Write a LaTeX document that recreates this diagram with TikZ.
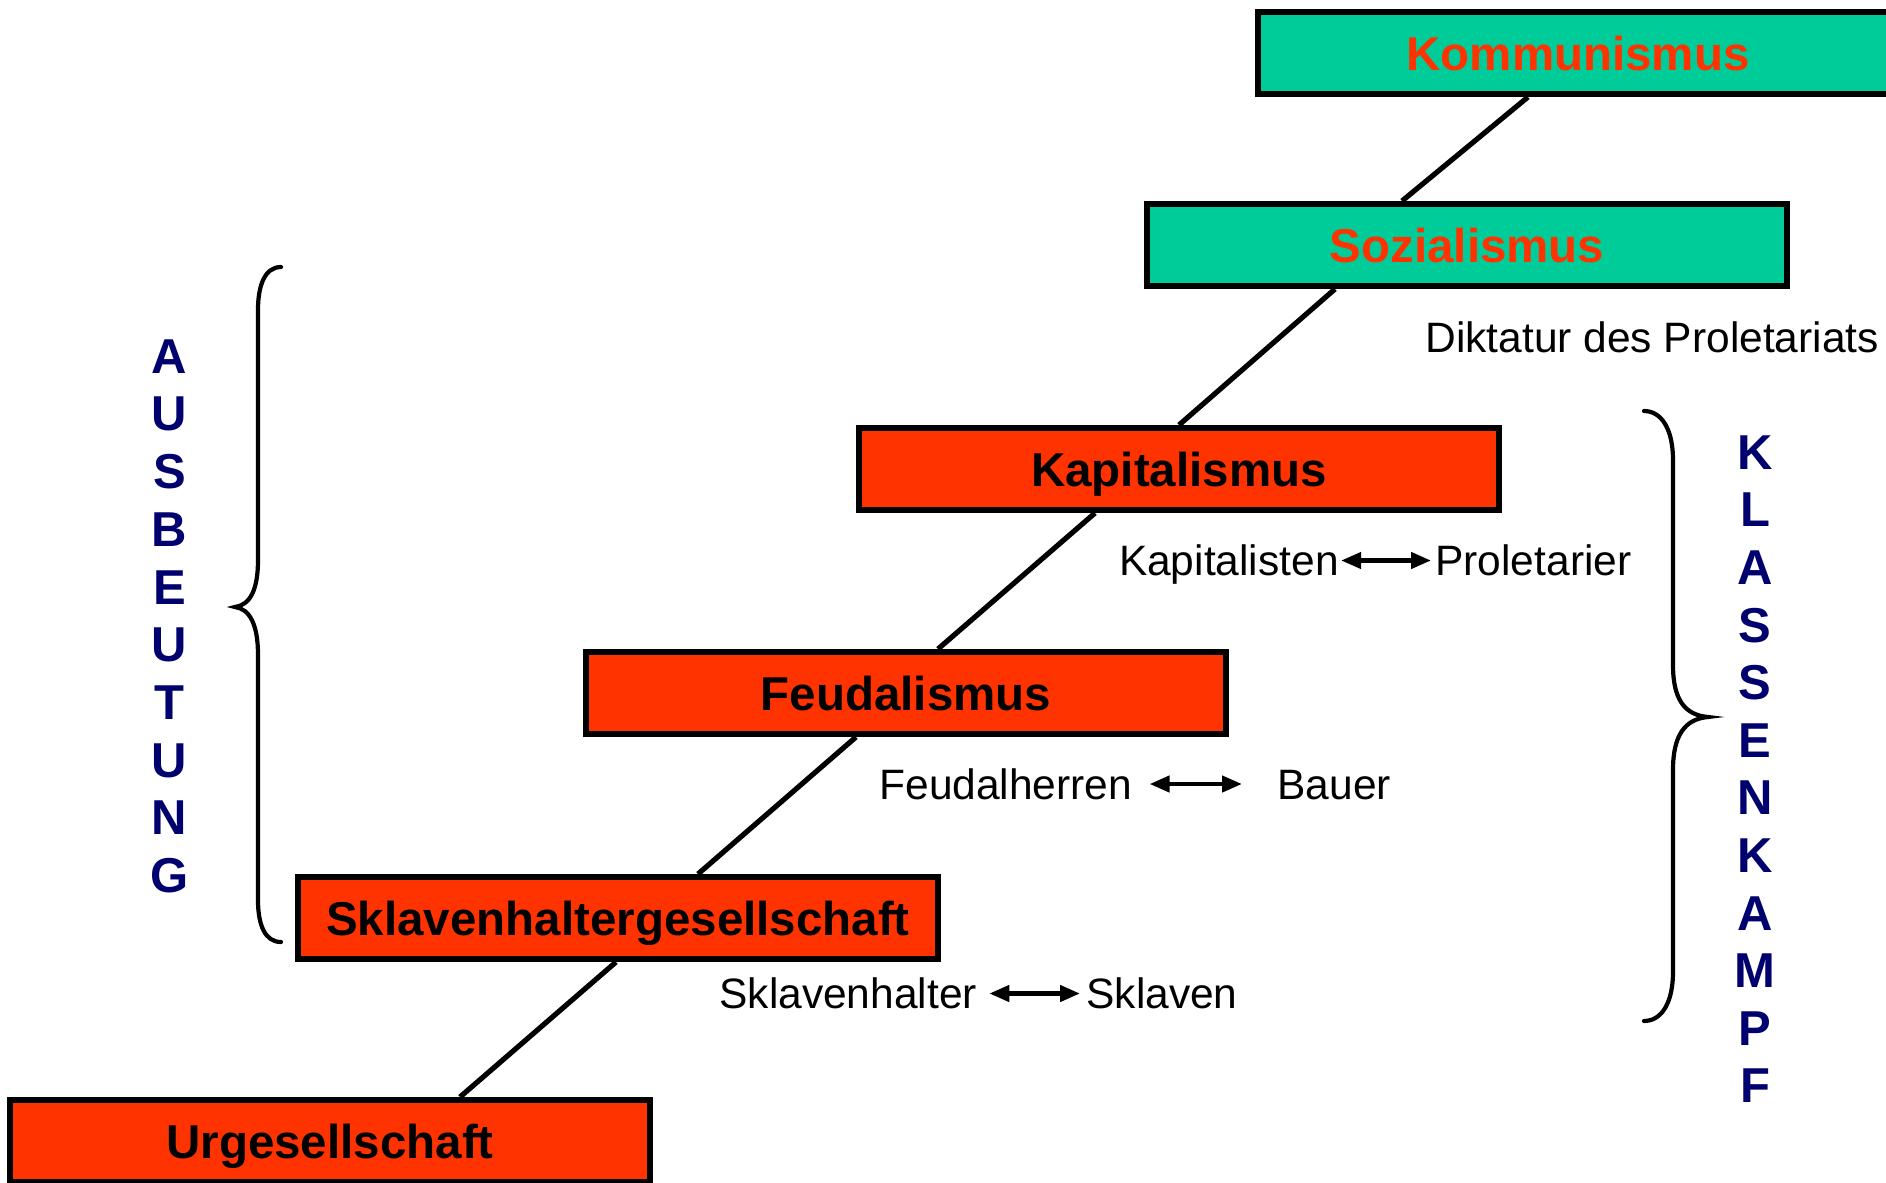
\documentclass[tikz,border=0pt]{standalone}
\usepackage{fontspec}
\setmainfont{Liberation Sans}
\usetikzlibrary{arrows.meta,calc}
\definecolor{boxred}{HTML}{FF3300}
\definecolor{boxteal}{HTML}{00CC99}
\definecolor{navyblue}{RGB}{0,0,110}
\begin{document}
\begin{tikzpicture}[x=0.5pt,y=-0.5pt,
  stage/.style={draw=black, line width=3pt, minimum width=320pt, minimum height=41pt,
    inner sep=0pt, text height=17pt, text depth=0pt, font=\fontsize{23.75}{28}\selectfont\bfseries},
  redstage/.style={stage, fill=boxred, text=black},
  tealstage/.style={stage, fill=boxteal, text=boxred},
  link/.style={line width=2.6pt},
  lbl/.style={inner sep=0pt, text height=15.2pt, text depth=0pt, font=\fontsize{21.25}{25}\selectfont},
  rel/.style={line width=2.2pt, {Triangle[length=10pt,width=8pt]}-{Triangle[length=10pt,width=8pt]}},
  vlet/.style={inner sep=0pt, text=navyblue, text height=17.2pt, text depth=0pt, font=\fontsize{24.5}{28}\selectfont\bfseries},
  brace/.style={line width=2.1pt, line cap=round}]
\useasboundingbox (0,0) rectangle (1886,1183);
\fill[white] (0,0) rectangle (1886,1183);

% stages
\node[tealstage] (komm) at (1578,53) {Kommunismus};
\node[tealstage] (soz) at (1467,245) {Sozialismus};
\node[redstage] (kap) at (1179,469) {Kapitalismus};
\node[redstage] (feud) at (906,693) {Feudalismus};
\node[redstage] (sklav) at (618,918) {Sklavenhaltergesellschaft};
\node[redstage] (urg) at (330,1141) {Urgesellschaft};

% connectors
\draw[link] ([xshift=-25pt]komm.south) -- ([xshift=-32.5pt]soz.north);
\draw[link] ([xshift=-66pt]soz.south) -- (kap.north);
\draw[link] ([xshift=-42pt]kap.south) -- ([xshift=16pt]feud.north);
\draw[link] ([xshift=-25pt]feud.south) -- ([xshift=40pt]sklav.north);
\draw[link] ([xshift=-1pt]sklav.south) -- ([xshift=65pt]urg.north);

% labels
\node[lbl, anchor=west] (dik) at (1425,337) {Diktatur des Proletariats};
\node[lbl, anchor=west] (kapl) at (1118.6,560.5) {Kapitalisten};
\node[lbl, anchor=west] (prol) at (1435,560.5) {Proletarier};
\draw[rel, shorten <=1pt, shorten >=2pt] (kapl.east) -- (prol.west);
\node[lbl, anchor=west] (feudl) at (879,784) {Feudalherren};
\node[lbl, anchor=west] (bauer) at (1277,784) {Bauer};
\draw[rel, shorten <=8.5pt, shorten >=17.5pt] (feudl.east) -- (bauer.west);
\node[lbl, anchor=west] (sklh) at (719,993.5) {Sklavenhalter};
\node[lbl, anchor=west] (skl) at (1086,993.5) {Sklaven};
\draw[rel, shorten <=6pt, shorten >=3pt] (sklh.east) -- (skl.west);

% vertical words
\foreach \l [count=\i from 0] in {A,U,S,B,E,U,T,U,N,G}
  \node[vlet] (aus\i) at (169.6,356+57.7*\i) {\l};
\foreach \l [count=\i from 0] in {K,L,A,S,S,E,N,K,A,M,P,F}
  \node[vlet] (kla\i) at (1755,452+57.6*\i) {\l};

% braces
\draw[brace] (281,267) .. controls (265,267) and (258,285) .. (258,310) -- (258,560)
  .. controls (258,590) and (250,605) .. (235,607)
  .. controls (250,609) and (258,625) .. (258,655) -- (258,900)
  .. controls (258,925) and (265,942) .. (281,942);
\draw[brace] (1644,411) .. controls (1662,411) and (1673,430) .. (1673,460) -- (1673,665)
  .. controls (1673,700) and (1685,715) .. (1708,717)
  .. controls (1685,719) and (1673,735) .. (1673,770) -- (1673,972)
  .. controls (1673,1002) and (1662,1021) .. (1644,1021);
\end{tikzpicture}
\end{document}
